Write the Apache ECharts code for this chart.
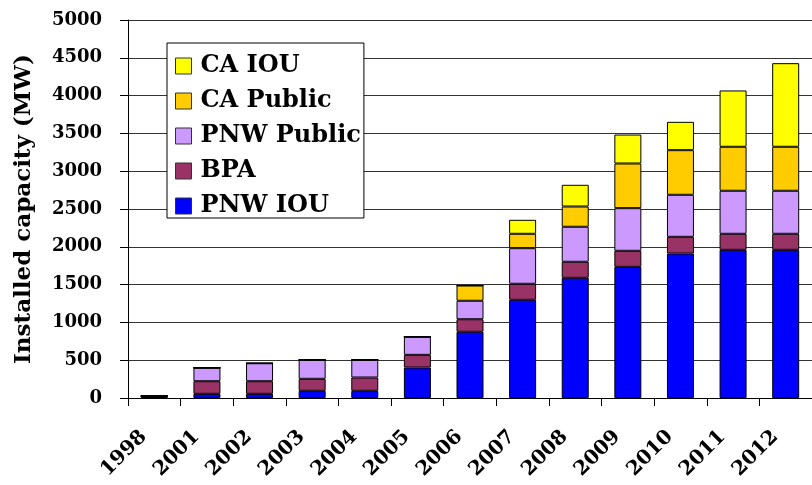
<!DOCTYPE html>
<html lang="en">
<head>
    <meta charset="UTF-8">
    <title>Installed capacity</title>
    <script src="https://cdn.jsdelivr.net/npm/echarts@6/dist/echarts.min.js"></script>
    <style>
        html, body { margin: 0; padding: 0; background: #fff; }
    </style>
</head>
<body>
<div id="main" style="width:812px;height:485px;"></div>
<script>
    // years on the x axis
    var years = ['1998', '2001', '2002', '2003', '2004', '2005', '2006', '2007', '2008', '2009', '2010', '2011', '2012'];

    // MW per group
    var pnwIou = [25, 55, 55, 95, 95, 403, 876, 1299, 1590, 1735, 1911, 1960, 1960];
    var bpa = [0, 167, 167, 159, 176, 168, 166, 212, 212, 212, 221, 212, 212];
    var pnwPublic = [0, 178, 238, 251, 234, 239, 244, 471, 463, 564, 556, 569, 569];
    var caPublic = [0, 0, 0, 0, 0, 0, 202, 190, 268, 591, 590, 582, 582];
    var caIou = [0, 0, 0, 0, 0, 0, 0, 185, 287, 383, 375, 745, 1106];

    var legendOrder = ['CA IOU', 'CA Public', 'PNW Public', 'BPA', 'PNW IOU'];

    var font = 'DejaVu Serif';

    var myChart = echarts.init(document.getElementById('main'));

    function bar(name, data, color) {
        return {
            name: name,
            type: 'bar',
            stack: 'total',
            barWidth: 27,
            data: data,
            itemStyle: {color: color, borderColor: '#000', borderWidth: 1}
        };
    }

    var option = {
        animation: false,
        backgroundColor: '#fff',
        grid: {left: 128, top: 20, width: 693, bottom: 87},
        legend: {
            data: legendOrder,
            orient: 'vertical',
            left: 167,
            top: 43,
            padding: [11, 3, 0, 8],
            icon: 'rect',
            itemWidth: 16,
            itemHeight: 16,
            itemGap: 11,
            backgroundColor: '#fff',
            borderColor: '#000',
            borderWidth: 1,
            itemStyle: {borderColor: '#333', borderWidth: 1},
            textStyle: {
                fontFamily: font, fontWeight: 'bold', fontSize: 24, lineHeight: 24,
                color: '#000', padding: [0, 0, 0, 4]
            }
        },
        xAxis: {
            type: 'category',
            data: years,
            axisLine: {lineStyle: {color: '#000', width: 1}},
            axisTick: {show: true, length: 8, alignWithLabel: false, lineStyle: {color: '#000'}},
            axisLabel: {
                interval: 0,
                rotate: 45,
                margin: 25,
                padding: [0, 15, 0, 0],
                fontFamily: font,
                fontWeight: 'bold',
                fontSize: 20,
                color: '#000'
            }
        },
        yAxis: {
            type: 'value',
            min: 0,
            max: 5000,
            interval: 500,
            name: 'Installed capacity (MW)',
            nameLocation: 'middle',
            nameGap: 92,
            nameTextStyle: {fontFamily: font, fontWeight: 'bold', fontSize: 23, color: '#000'},
            axisLine: {show: true, lineStyle: {color: '#000', width: 1}},
            axisTick: {show: true, length: 8, lineStyle: {color: '#000'}},
            splitLine: {lineStyle: {color: '#333', width: 1}},
            axisLabel: {
                margin: 26, fontFamily: font, fontWeight: 'bold', fontSize: 18, color: '#000',
                formatter: function (v) { return String(v); }
            }
        },
        series: [
            bar('PNW IOU', pnwIou, '#0000FF'),
            bar('BPA', bpa, '#993366'),
            bar('PNW Public', pnwPublic, '#CC99FF'),
            bar('CA Public', caPublic, '#FFCC00'),
            bar('CA IOU', caIou, '#FFFF00')
        ]
    };

    myChart.setOption(option);
</script>
</body>
</html>
